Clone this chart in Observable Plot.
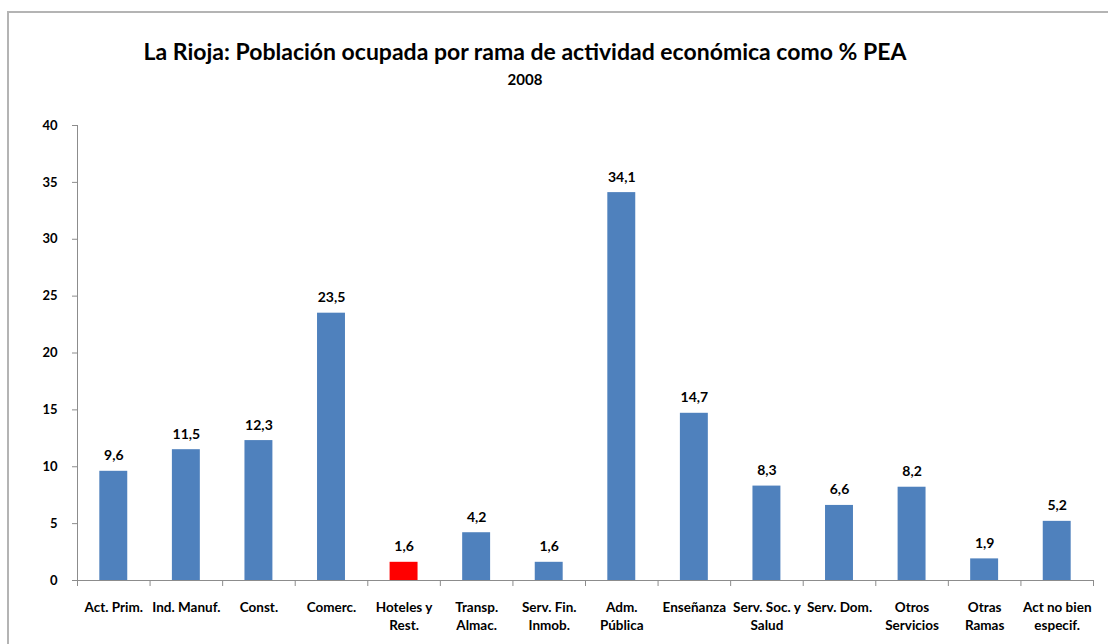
<!DOCTYPE html>
<html>
<head>
<meta charset="utf-8">
<script src="https://cdn.jsdelivr.net/npm/d3@7"></script>
<script src="https://cdn.jsdelivr.net/npm/@observablehq/plot@0.6"></script>
<style>
  body { margin: 0; background: #fff; font-family: Lato, "Open Sans", sans-serif; }
  #wrap { position: relative; width: 1108px; height: 644px; overflow: hidden; }
  #frame { position: absolute; left: 7px; top: 11px; width: 1300px; height: 800px; border: 2px solid #b4b4b4; box-sizing: border-box; }
  #title { position: absolute; left: 0; width: 1050px; top: 40px; text-align: center; font-weight: 700; font-size: 23px; line-height: 1; color: #000; }
  #subtitle { position: absolute; left: 0; width: 1050px; top: 72px; text-align: center; font-weight: 700; font-size: 15px; line-height: 1; color: #000; }
  #chart { position: absolute; left: 0; top: 0; }
</style>
</head>
<body>
<div id="wrap">
  <div id="frame"></div>
  <div id="chart"></div>
  <div id="title">La Rioja: Población ocupada por rama de actividad económica como % PEA</div>
  <div id="subtitle">2008</div>
</div>
<script>
const categories = [
  "Act. Prim.", "Ind. Manuf.", "Const.", "Comerc.", "Hoteles y\nRest.",
  "Transp.\nAlmac.", "Serv. Fin.\nInmob.", "Adm.\nPública", "Enseñanza",
  "Serv. Soc. y\nSalud", "Serv. Dom.", "Otros\nServicios", "Otras\nRamas",
  "Act no bien\nespecif."
];
const values = [9.6, 11.5, 12.3, 23.5, 1.6, 4.2, 1.6, 34.1, 14.7, 8.3, 6.6, 8.2, 1.9, 5.2];
const highlighted = ["Hoteles y\nRest."];
const yTicks = [0, 5, 10, 15, 20, 25, 30, 35, 40];

const data = categories.map((c, i) => ({cat: c, value: values[i]}));

const W = 1108, H = 644, mL = 77, mR = 15, mT = 125, mB = 64;
const step = (W - mL - mR) / categories.length;
const axisGray = "#8c8c8c";
const fmt = v => v.toFixed(1).replace(".", ",");

const chart = Plot.plot({
  width: W, height: H,
  marginLeft: mL, marginRight: mR, marginTop: mT, marginBottom: mB,
  style: {fontFamily: "Lato, 'Open Sans', sans-serif", fontWeight: "bold", color: "#000", background: "transparent"},
  x: {domain: categories, paddingInner: 0.615, paddingOuter: 0.3075, round: false, axis: null},
  y: {domain: [0, 40], axis: null},
  marks: [
    Plot.barY(data, {x: "cat", y: "value", fill: d => highlighted.includes(d.cat) ? "#ff0000" : "#4f81bd"}),
    Plot.ruleY([0], {stroke: axisGray}),
    Plot.ruleX([categories[0]], {dx: -step / 2, y1: 0, y2: 40, stroke: axisGray}),
    Plot.ruleX(categories, {dx: -step / 2, y1: 0, y2: 0, insetBottom: -6, stroke: axisGray}),
    Plot.ruleX([categories[categories.length - 1]], {dx: step / 2, y1: 0, y2: 0, insetBottom: -6, stroke: axisGray}),
    Plot.axisY({ticks: yTicks, tickSize: 5, tickPadding: 15, stroke: axisGray, fill: "#000", fontSize: 13, fontWeight: "bold", label: null, tickFormat: d => String(d)}),
    Plot.axisX({tickSize: 0, tickPadding: 19, fill: "#000", fontSize: 13.5, fontWeight: "bold", lineHeight: 1.3, label: null}),
    Plot.text(data, {x: "cat", y: "value", text: d => fmt(d.value), lineAnchor: "bottom", dy: -11, fontSize: 14, fontWeight: "bold", fill: "#000"})
  ]
});
document.getElementById("chart").appendChild(chart);
</script>
</body>
</html>
